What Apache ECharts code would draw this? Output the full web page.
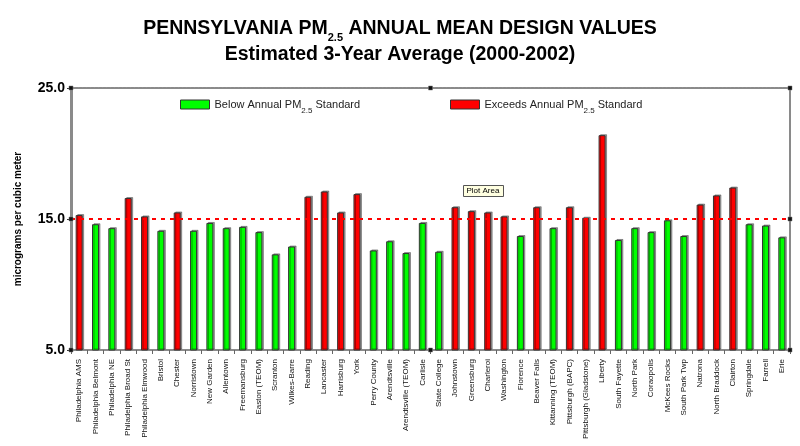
<!DOCTYPE html>
<html><head><meta charset="utf-8">
<script src="https://cdn.jsdelivr.net/npm/echarts@6/dist/echarts.min.js"></script>
<style>html,body{margin:0;padding:0;background:#fff}#c{width:800px;height:446px}</style>
</head><body><div id="c"></div>
<script>
const sites = ['Philadelphia AMS','Philadelphia Belmont','Philadelphia NE','Philadelphia Broad St','Philadelphia Elmwood','Bristol','Chester','Norristown','New Garden','Allentown','Freemansburg','Easton (TEOM)','Scranton','Wilkes-Barre','Reading','Lancaster','Harrisburg','York','Perry County','Arendtsville','Arendtsville (TEOM)','Carlisle','State College','Johnstown','Greensburg','Charleroi','Washington','Florence','Beaver Falls','Kittanning (TEOM)','Pittsburgh (BAPC)','Pittsburgh (Gladstone)','Liberty','South Fayette','North Park','Coraopolis','McKees Rocks','South Park Twp','Natrona','North Braddock','Clairton','Springdale','Farrell','Erie'];
const values = [15.3,14.6,14.3,16.6,15.2,14.1,15.5,14.1,14.7,14.3,14.4,14.0,12.3,12.9,16.7,17.1,15.5,16.9,12.6,13.3,12.4,14.7,12.5,15.9,15.6,15.5,15.2,13.7,15.9,14.3,15.9,15.1,21.4,13.4,14.3,14.0,14.9,13.7,16.1,16.8,17.4,14.6,14.5,13.6];
const standard = 15.0;
const yMin = 5, yMax = 25, yStep = 10;
const belowName = 'Below Annual PM2.5 Standard';
const exceedName = 'Exceeds Annual PM2.5 Standard';

const below = values.map(v => v <= standard ? v : null);
const exceeds = values.map(v => v > standard ? v : null);

const chart = echarts.init(document.getElementById('c'), null, {renderer: 'canvas'});
const FONT = 'Liberation Sans, Arial, sans-serif';
const subRich = {s: {fontSize: 8, fontFamily: FONT, color: '#222', verticalAlign: 'bottom', lineHeight: 8, padding: [0,0,-5,0]}};
const barStyleBase = {borderColor: '#333', borderWidth: 1, shadowColor: 'rgba(0,0,0,0.35)', shadowOffsetX: 1.5, shadowOffsetY: -1};
const titleRich = {
  a: {fontFamily: FONT, fontWeight: 'bold', fontSize: 19.5, color: '#000', verticalAlign: 'top'},
  s: {fontFamily: FONT, fontWeight: 'bold', fontSize: 11, color: '#000', lineHeight: 24, verticalAlign: 'bottom'}
};

const G = {left: 71, right: 10, top: 88, bottom: 96};
const W = 800, H = 446;
const hx = [G.left, (G.left + W - G.right) / 2, W - G.right];
const hy = [G.top, (G.top + H - G.bottom) / 2, H - G.bottom];
const handles = [];
hx.forEach((x, i) => hy.forEach((y, j) => {
  if (i === 1 && j === 1) return;
  handles.push({type: 'rect', silent: true, z: 100, shape: {x: x - 2, y: y - 2, width: 4, height: 4}, style: {fill: '#111', stroke: '#777', lineWidth: 0.5}});
}));

chart.setOption({
  animation: false,
  backgroundColor: '#fff',
  title: [
    {text: '{a|PENNSYLVANIA PM}{s|2.5}{a| ANNUAL MEAN DESIGN VALUES}', left: 'center', top: 19, padding: 0,
     textStyle: {fontFamily: FONT, fontWeight: 'bold', fontSize: 19.5, color: '#000', rich: titleRich}},
    {text: 'Estimated 3-Year Average (2000-2002)', left: 'center', top: 45, padding: 0,
     textStyle: {fontFamily: FONT, fontWeight: 'bold', fontSize: 19.5, color: '#000'}}
  ],
  legend: [
    {data: [belowName], left: 180, top: 99, padding: 0, itemWidth: 29, itemHeight: 9, itemGap: 6, icon: 'rect',
     formatter: n => n.replace('2.5', '{s|2.5}'),
     textStyle: {fontFamily: FONT, fontSize: 11, color: '#222', rich: subRich},
     itemStyle: {borderColor: '#333', borderWidth: 1, shadowBlur: 0, shadowOffsetX: 0, shadowOffsetY: 0}},
    {data: [exceedName], left: 450, top: 99, padding: 0, itemWidth: 29, itemHeight: 9, itemGap: 6, icon: 'rect',
     formatter: n => n.replace('2.5', '{s|2.5}'),
     textStyle: {fontFamily: FONT, fontSize: 11, color: '#222', rich: subRich},
     itemStyle: {borderColor: '#333', borderWidth: 1, shadowBlur: 0, shadowOffsetX: 0, shadowOffsetY: 0}}
  ],
  grid: {left: G.left, right: G.right, top: G.top, bottom: G.bottom, containLabel: false},
  xAxis: [
    {type: 'category', data: sites, position: 'bottom',
     axisLine: {lineStyle: {color: '#8a8a8a', width: 2}},
     axisTick: {show: true, length: 4, lineStyle: {color: '#666'}},
     axisLabel: {rotate: 90, interval: 0, fontFamily: FONT, fontSize: 8, color: '#111', margin: 9}},
    {type: 'category', data: sites, position: 'top',
     axisLine: {lineStyle: {color: '#8a8a8a', width: 2, type: [3,1]}},
     axisTick: {show: false}, axisLabel: {show: false}}
  ],
  yAxis: [
    {type: 'value', min: yMin, max: yMax, interval: yStep, position: 'left',
     name: 'micrograms per cubic meter', nameLocation: 'middle', nameGap: 48, nameRotate: 90,
     nameTextStyle: {fontFamily: FONT, fontWeight: 'bold', fontSize: 10, color: '#000'},
     axisLine: {show: true, lineStyle: {color: '#8a8a8a', width: 3}},
     axisTick: {show: true, length: 4, lineStyle: {color: '#333'}},
     splitLine: {show: false},
     axisLabel: {formatter: v => v.toFixed(1), fontFamily: FONT, fontWeight: 'bold', fontSize: 14, color: '#000', margin: 6}},
    {type: 'value', min: yMin, max: yMax, interval: yStep, position: 'right',
     axisLine: {show: true, lineStyle: {color: '#8a8a8a', width: 2}},
     axisTick: {show: false}, axisLabel: {show: false}, splitLine: {show: false}}
  ],
  series: [
    {name: belowName, type: 'bar', data: below, barWidth: 7, barGap: '-100%',
     itemStyle: Object.assign({color: '#00ff00'}, barStyleBase),
     markLine: {silent: true, symbol: 'none', label: {show: false},
       lineStyle: {color: '#ff0000', width: 2, type: [4,5]},
       data: [{yAxis: standard}]}},
    {name: exceedName, type: 'bar', data: exceeds, barWidth: 7, barGap: '-100%',
     itemStyle: Object.assign({color: '#ff0000'}, barStyleBase)}
  ],
  graphic: handles.concat([
    {type: 'group', left: 463, top: 185, children: [
      {type: 'rect', shape: {x: 0, y: 0, width: 40, height: 11}, style: {fill: '#ffffe1', stroke: '#555', lineWidth: 1}},
      {type: 'text', x: 3, y: 1.5, style: {text: 'Plot Area', font: '8px ' + FONT, fill: '#000'}}
    ]}
  ])
});
</script>
</body></html>
